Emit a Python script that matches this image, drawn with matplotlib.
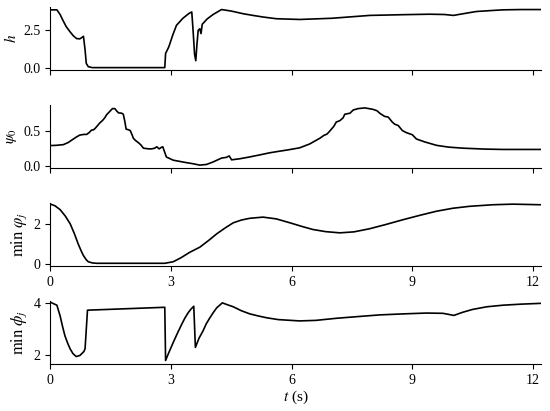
import numpy as np
import matplotlib.pyplot as plt

plt.rcParams['font.family'] = ['Liberation Serif', 'DejaVu Serif']
plt.rcParams['mathtext.fontset'] = 'stix'
plt.rcParams['font.size'] = 10

# h(t)
t_h = [0.0, 0.17, 0.25, 0.32, 0.4, 0.5, 0.58, 0.66, 0.74, 0.79, 0.83, 0.87, 0.9, 0.95, 1.05,
       2.85, 2.87, 2.95, 3.05, 3.14, 3.3, 3.45, 3.52, 3.55, 3.59, 3.62, 3.65, 3.68, 3.72, 3.75, 3.78,
       3.9, 4.05, 4.26, 4.5, 4.8, 5.04, 5.3, 5.62, 6.2, 7.0, 7.94, 8.8, 9.43, 9.8, 10.02,
       10.3, 10.59, 11.0, 11.25, 11.7, 12.18]
h = [3.86, 3.86, 3.55, 3.16, 2.75, 2.39, 2.13, 1.95, 1.93, 2.02, 2.1, 1.2, 0.3, 0.08, 0.02,
     0.02, 0.96, 1.4, 2.2, 2.83, 3.3, 3.62, 3.72, 2.6, 0.9, 0.48, 1.6, 2.5, 2.6, 2.28, 2.9,
     3.25, 3.55, 3.88, 3.78, 3.6, 3.49, 3.38, 3.27, 3.22, 3.3, 3.49, 3.54, 3.57, 3.55, 3.49,
     3.62, 3.75, 3.82, 3.86, 3.88, 3.88]

# psi_0(t)
t_psi = [0.0, 0.15, 0.33, 0.45, 0.58, 0.66, 0.74, 0.85, 0.91, 0.97, 1.03, 1.08, 1.12, 1.18, 1.24,
         1.3, 1.36, 1.4, 1.45, 1.5, 1.55, 1.61, 1.65, 1.7, 1.78, 1.82, 1.86, 1.89, 1.95, 1.99, 2.03,
         2.07, 2.12, 2.19, 2.25, 2.32, 2.45, 2.52, 2.6, 2.65, 2.71, 2.76, 2.8, 2.89, 3.06, 3.2,
         3.39, 3.55, 3.72, 3.89, 4.05, 4.26, 4.38, 4.45, 4.51, 4.71, 4.95, 5.21, 5.46, 5.62,
         5.9, 6.2, 6.45, 6.7, 6.8, 6.88, 6.93, 7.05, 7.11, 7.2, 7.28, 7.32, 7.45, 7.53, 7.65,
         7.82, 8.02, 8.12, 8.2, 8.31, 8.4, 8.5, 8.56, 8.65, 8.75, 8.85, 9.0, 9.1, 9.3, 9.6,
         9.9, 10.26, 10.8, 11.25, 12.2]
psi = [0.287, 0.29, 0.3, 0.33, 0.38, 0.41, 0.436, 0.445, 0.445, 0.47, 0.505, 0.51, 0.53, 0.57, 0.61,
       0.64, 0.68, 0.72, 0.75, 0.78, 0.81, 0.81, 0.78, 0.75, 0.745, 0.73, 0.62, 0.52, 0.51, 0.5,
       0.45, 0.39, 0.36, 0.33, 0.3, 0.25, 0.24, 0.24, 0.25, 0.27, 0.24, 0.26, 0.27, 0.125, 0.08,
       0.065, 0.045, 0.03, 0.01, 0.02, 0.055, 0.11, 0.12, 0.14, 0.085, 0.1, 0.125, 0.155, 0.185,
       0.2, 0.225, 0.255, 0.31, 0.39, 0.43, 0.45, 0.48, 0.56, 0.62, 0.64, 0.68, 0.73, 0.745, 0.79,
       0.81, 0.82, 0.8, 0.78, 0.74, 0.70, 0.69, 0.62, 0.59, 0.57, 0.5, 0.47, 0.44, 0.38, 0.34,
       0.29, 0.265, 0.25, 0.237, 0.232, 0.232]

# min varphi_j(t)
t_vphi = [0.0, 0.12, 0.25, 0.38, 0.5, 0.6, 0.7, 0.78, 0.83, 0.9, 0.95, 1.05, 1.16, 2.85,
          3.06, 3.25, 3.47, 3.72, 3.95, 4.14, 4.35, 4.55, 4.75, 4.96, 5.29, 5.62, 5.96, 6.25,
          6.53, 6.85, 7.2, 7.55, 7.94, 8.35, 8.77, 9.2, 9.6, 10.0, 10.42, 11.0, 11.5, 12.18]
vphi = [3.04, 2.95, 2.75, 2.42, 2.03, 1.55, 1.0, 0.62, 0.41, 0.2, 0.1, 0.04, 0.02, 0.02,
        0.1, 0.3, 0.58, 0.84, 1.2, 1.52, 1.82, 2.08, 2.22, 2.31, 2.37, 2.28, 2.08, 1.9,
        1.74, 1.63, 1.57, 1.62, 1.78, 2.0, 2.24, 2.47, 2.67, 2.82, 2.92, 3.0, 3.03, 3.0]

# min phi_j(t)
t_phi = [0.0, 0.17, 0.25, 0.31, 0.37, 0.44, 0.5, 0.57, 0.65, 0.74, 0.84, 0.87, 0.93,
         2.85, 2.87, 2.95, 3.06, 3.17, 3.27, 3.35, 3.43, 3.5, 3.57, 3.61, 3.7, 3.8, 3.88,
         3.97, 4.06, 4.14, 4.28, 4.4, 4.55, 4.75, 4.96, 5.17, 5.38, 5.67, 6.2, 6.6, 7.11,
         7.6, 8.19, 8.8, 9.35, 9.76, 10.03, 10.25, 10.5, 10.85, 11.25, 11.7, 12.18]
phi = [4.03, 3.91, 3.5, 3.1, 2.74, 2.45, 2.24, 2.06, 1.95, 1.99, 2.14, 2.25, 3.72,
       3.83, 1.8, 2.1, 2.49, 2.86, 3.18, 3.42, 3.62, 3.76, 3.87, 2.3, 2.65, 2.93, 3.2,
       3.43, 3.64, 3.81, 4.0, 3.93, 3.85, 3.7, 3.58, 3.5, 3.43, 3.36, 3.31, 3.33, 3.41,
       3.47, 3.54, 3.58, 3.61, 3.6, 3.52, 3.64, 3.75, 3.85, 3.91, 3.95, 3.98]

fig, axes = plt.subplots(4, 1, figsize=(5.5, 4.11), dpi=100)
fig.subplots_adjust(left=0.091, right=0.984, top=0.983, bottom=0.114, hspace=0.56)

series = [(t_h, h), (t_psi, psi), (t_vphi, vphi), (t_phi, phi)]
ylabels = [r'$h$', r'$\psi_0$', r'$\min\;\varphi_j$', r'$\min\;\phi_j$']
ylabel_sizes = [11, 11, 12, 12]
yticks = [[0, 2.5], [0, 0.5], [0, 2], [2, 4]]
yticklabels = [['0.0', '2.5'], ['0.0', '0.5'], ['0', '2'], ['2', '4']]
ylims = [(-0.13, 4.05), (-0.03, 0.86), (-0.12, 3.08), (1.66, 4.06)]

for i, ax in enumerate(axes):
    ax.plot(series[i][0], series[i][1], color='k', lw=1.2)
    ax.set_xlim(0, 12.2)
    ax.set_ylim(ylims[i])
    ax.set_xticks([0, 3, 6, 9, 12])
    ax.set_yticks(yticks[i])
    ax.set_yticklabels(yticklabels[i])
    ax.set_ylabel(ylabels[i], fontsize=ylabel_sizes[i], labelpad=3)
    ax.spines['top'].set_visible(False)
    ax.spines['right'].set_visible(False)
    if i < 2:
        ax.set_xticklabels([])

axes[-1].set_xlabel(r'$t$ (s)', fontsize=11, labelpad=1)

plt.savefig('out.png')
